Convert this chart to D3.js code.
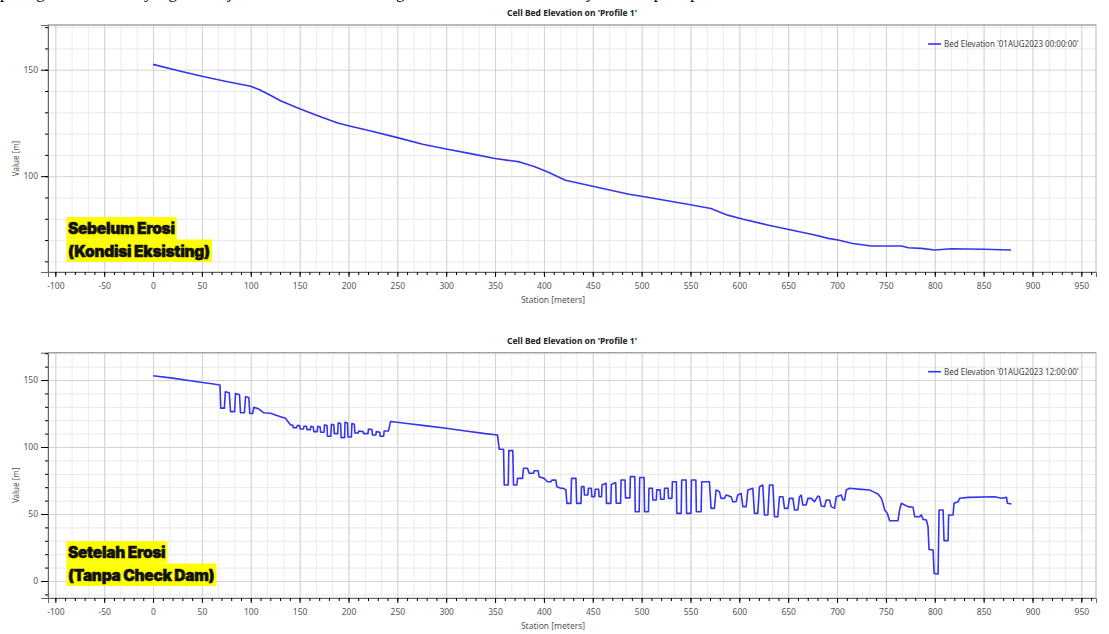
<!DOCTYPE html>
<html>
<head>
<meta charset="utf-8">
<script src="https://cdn.jsdelivr.net/npm/d3@7"></script>
<style>
  body { margin: 0; background: #fff; }
  svg { display: block; }
  text { font-family: "Noto Sans", "Open Sans", sans-serif; }
</style>
</head>
<body>
<script>
var width = 1109;
var height = 634;

// x ticks shared by both plots
var xTicks = [-100, -50, 0, 50, 100, 150, 200, 250, 300, 350, 400, 450, 500, 550, 600, 650, 700, 750, 800, 850, 900, 950];
var yTicksTop = [100, 150];
var yTicksBottom = [0, 50, 100, 150];

// before erosion (01AUG2023 00:00:00)
var stationsBefore = [0, 25, 50, 75, 100, 109, 120, 131, 150, 170, 189, 200, 225, 250, 276, 300, 325, 350, 375, 390, 404, 422, 450, 487, 503, 525, 547, 571, 588, 604, 630, 653, 675, 691, 701, 716, 735, 766, 773, 786, 800, 817, 850, 878];
var bedBefore = [152.5, 149.6, 146.9, 144.5, 142.2, 140.6, 138, 135.3, 131.7, 128.2, 125.0, 123.7, 121.0, 118.1, 115.0, 112.8, 110.6, 108.3, 106.7, 104.5, 102.0, 98.1, 95.3, 91.5, 90.3, 88.6, 86.8, 84.8, 81.7, 79.8, 77.0, 74.7, 72.6, 70.8, 70.0, 68.4, 67.2, 67.2, 66.4, 66.1, 65.3, 65.9, 65.7, 65.3];

// after erosion (01AUG2023 12:00:00), [station, elevation]
var bedAfter = [
  [0,153.2],[20,151.4],[40,149.3],[60,147.2],[68.5,146.3],
  [69.3,129],[73,129],[74,141.3],[78,140.5],[79.3,126.4],[83.5,126.4],[84.4,140],[88.5,139],[89.5,125.6],[93.5,125.6],
  [94.7,137.5],[98,137],[99,125],[102,125],[103,129.6],[108,128.5],[113,125.6],[120,125.2],[130.5,122.6],[135.7,121.4],
  [137.4,119.6],[140.8,116.4],
  [143,116.4],[143.5,114.5],[147,114.5],[147.5,116],[150,116],[150.5,113.5],[154,113.5],[154.5,115.5],[157,115.5],
  [157.5,113],[161,113],[161.5,115.5],[164,115],[164.5,111.5],[168,111.5],[168.5,115.5],[171,115],[171.5,111],[175,111],
  [175.5,116.5],[178,116],[178.5,108],[182,108],[182.5,117],[185,116.5],[185.5,110],[189,110],[189.5,118],[192,117.5],
  [192.5,107],[196,107],[196.5,118.5],[199,118],[199.5,107.5],[203,107.5],[203.5,117.5],[206,117],[206.5,110.5],[210,110.5],
  [210.5,112],[215,111.5],[215.5,110],[220,110],[220.5,113.5],[224,113],[224.5,109],[228,109],[228.5,111.5],[232,111],
  [232.5,108],[236,108],[236.5,112],[241,112],[243,119],
  [260,117.5],[280,115.8],[300,114],[320,112],[340,110],[352.5,109],
  [354.3,98.3],[358.7,98.3],[359.4,71.6],[363.5,71.6],[364.1,97.3],[368.2,97.3],[368.9,71.6],[372.3,71.6],[373,76.6],
  [378.1,76.6],[379.1,84.1],[383.2,84.1],[384.9,80.4],[389.3,80.4],[390,82.3],[394.1,82.3],[395.1,77.8],[400.2,76.6],
  [403.7,74.1],[407.1,74.1],[408.1,75.3],[412.2,75.3],[413.2,70.4],[417.3,69.2],[420,69.2],[422.5,67.9],
  [423.5,57.9],[427.6,57.9],[428.3,76.6],[432.8,76.6],[433.5,57.9],[437.9,57.9],[438.5,70.4],[441,70.4],[441.5,64.2],
  [445,64.2],[445.5,69.2],[448.5,69.2],[449,63],[452,63],[452.5,68.5],[456,68.5],[456.5,62.9],[459,62.9],[459.5,71.6],
  [463.6,72.9],[464,57.9],[468.5,57.9],[469,72],[473.5,73.5],[474,58],[478.5,58],[479,75.4],[483,75.4],[483.5,62],
  [488,62],[488.5,77.9],[493,77.9],[493.5,51.7],[497.5,51.7],[498,77.2],[502.5,77.2],[503,51.7],[507,51.7],[507.5,69.2],
  [511,69.2],[511.5,60.4],[515,60.4],[515.5,68],[519,68],[519.5,61],[523,61],[523.5,69.2],[527,69.2],[527.5,61.7],
  [531,61.7],[531.5,74.1],[535.6,74.1],[536,50.5],[540.5,50.5],[541,75.4],[545.5,75.4],[546,50.5],[550.5,50.5],
  [551,75.4],[555.5,75.4],[556,51.7],[560.9,51.7],
  [561.5,74.1],[569.4,74.1],[571.1,54.2],[574.5,54.2],[576.2,67.9],[579.6,66.7],[581.3,61.7],[584.7,61.7],[586.5,64.2],
  [591.6,62.9],[593.3,59.2],[596.7,59.2],[598.4,64.2],[601.8,65.4],[603.6,55.5],[607,55.5],[608.7,67.9],[613.8,69.2],
  [615.5,50.5],[618.9,50.5],[620.6,70.4],[624,71.6],[625.7,49.3],[629.2,49.3],[630.8,71.6],[634.3,71.6],[636,48],
  [639.4,48],[641.1,62.9],[644.6,62.9],[646.2,54.2],[649.7,54.2],[651.3,61.7],[654.8,61.7],[656.5,53],[659.9,53],
  [661.6,62.9],[663.3,64.2],[665,56.7],[668.4,56.7],[670.2,61.7],[673.6,61.7],[676.9,59.2],[680.4,63.4],[682,62.9],
  [683.8,56],[687.2,55.5],[688.9,60.4],[692.3,60.4],[694,55.5],[697.4,54.2],[699.2,62.9],[704.3,64.2],[706,60.4],
  [707.7,60.4],[709.4,67.9],[712.8,69.2],[724.8,68.4],[733.3,67.9],[736.8,66.7],[741.9,64.9],[745.3,61.7],[747,58],
  [748.7,53],[751.4,50.5],[753.8,45],[762.4,45],[764,53],[765.8,58],[769.2,56.7],[772.6,55.5],[777.8,55],[779.4,48],
  [784.5,48],[786.3,49.3],[788,46],[791.4,45.5],[793.1,40.5],[794.1,23.6],[798.3,23.1],[799.3,5.7],[803.4,5.2],
  [804.4,53],[808.5,53],[809.5,30.1],[813.6,30.1],[814.2,49.3],[818.7,49.3],[819.7,58],[823.9,59.2],[825.5,61.7],
  [834.1,62.4],[861.4,62.9],[868.2,61.7],[873.4,62.4],[874.4,58],[878.5,57.5]
];

var svg = d3.select('body').append('svg')
  .attr('width', width)
  .attr('height', height);

// bottom edge of the document text line that sits above the charts (cropped in the source)
svg.append('text')
  .attr('x', 0)
  .attr('y', -2)
  .style('font-family', '"Liberation Serif", serif')
  .style('font-size', '17px')
  .text('pada gambar berikut yang menunjukkan kondisi dasar sungai sebelum dan sesudah terjadi erosi pada profil tersebut');

var left = 48, right = 1096;

var xScale = d3.scaleLinear().domain([-107.5, 965]).range([left, right]);

var panels = [
  {
    top: 25, bottom: 272, yDomain: [55, 171], yTicks: yTicksTop,
    data: stationsBefore.map(function(s, i) { return [s, bedBefore[i]]; }),
    legend: "Bed Elevation '01AUG2023 00:00:00'",
    notes: ['Sebelum Erosi', '(Kondisi Eksisting)'],
    noteTop: 217
  },
  {
    top: 352.7, bottom: 598, yDomain: [-12.7, 170.4], yTicks: yTicksBottom,
    data: bedAfter,
    legend: "Bed Elevation '01AUG2023 12:00:00'",
    notes: ['Setelah Erosi', '(Tanpa Check Dam)'],
    noteTop: 541
  }
];

panels.forEach(function(p) {
  var yScale = d3.scaleLinear().domain(p.yDomain).range([p.bottom, p.top]);
  var h = p.bottom - p.top;
  var g = svg.append('g');

  // grid lines
  var yMinor = d3.range(Math.ceil(p.yDomain[0] / 10) * 10, p.yDomain[1], 10);
  var xMinor = d3.range(-100, 965, 50 / 3);

  g.append('g')
    .attr('transform', `translate(0, ${p.bottom})`)
    .call(d3.axisBottom(xScale).tickValues(xMinor).tickSize(-h).tickFormat(''))
    .call(function(a) {
      a.select('.domain').remove();
      a.selectAll('line').attr('stroke', '#ececec');
    });

  g.append('g')
    .attr('transform', `translate(${left}, 0)`)
    .call(d3.axisLeft(yScale).tickValues(yMinor).tickSize(-(right - left)).tickFormat(''))
    .call(function(a) {
      a.select('.domain').remove();
      a.selectAll('line').attr('stroke', function(d) { return d % 50 === 0 ? '#d4d4d4' : '#e8e8e8'; });
    });

  g.append('g')
    .attr('transform', `translate(0, ${p.bottom})`)
    .call(d3.axisBottom(xScale).tickValues(xTicks).tickSize(-h).tickFormat(''))
    .call(function(a) {
      a.select('.domain').remove();
      a.selectAll('line').attr('stroke', '#d2d2d2');
    });

  // frame
  g.append('rect')
    .attr('x', left)
    .attr('y', p.top)
    .attr('width', right - left)
    .attr('height', h)
    .attr('fill', 'none')
    .attr('stroke', '#b8b8b8');

  g.append('line')
    .attr('x1', left).attr('x2', right)
    .attr('y1', p.top).attr('y2', p.top)
    .attr('stroke', '#999');

  // axes
  var xAxis = g.append('g')
    .attr('transform', `translate(0, ${p.bottom})`)
    .call(d3.axisBottom(xScale).tickValues(xTicks).tickSize(5).tickPadding(6)
      .tickFormat(function(d) { return String(d); }));
  g.append('g')
    .attr('transform', `translate(0, ${p.bottom})`)
    .call(d3.axisBottom(xScale).tickValues(d3.range(-100, 961, 10)).tickSize(3).tickFormat(''))
    .call(function(a) { a.select('.domain').remove(); });

  var yAxis = g.append('g')
    .attr('transform', `translate(${left}, 0)`)
    .call(d3.axisLeft(yScale).tickValues(p.yTicks).tickSize(7).tickPadding(3));
  g.append('g')
    .attr('transform', `translate(${left}, 0)`)
    .call(d3.axisLeft(yScale).tickValues(yMinor).tickSize(3).tickFormat(''))
    .call(function(a) { a.select('.domain').remove(); });

  g.selectAll('.domain').attr('stroke', '#666');
  [xAxis, yAxis].forEach(function(a) {
    a.selectAll('text')
      .attr('fill', '#555')
      .style('font-size', '8.5px');
  });

  // line
  var line = d3.line()
    .x(function(d) { return xScale(d[0]); })
    .y(function(d) { return yScale(d[1]); });

  g.append('path')
    .datum(p.data)
    .attr('fill', 'none')
    .attr('stroke', '#3535ee')
    .attr('stroke-width', 1.6)
    .attr('stroke-linejoin', 'round')
    .attr('d', line);

  // title
  g.append('text')
    .attr('x', (left + right) / 2)
    .attr('y', p.top - 9)
    .attr('text-anchor', 'middle')
    .style('font-size', '8.5px')
    .style('font-weight', 'bold')
    .attr('fill', '#222')
    .text("Cell Bed Elevation on 'Profile 1'");

  // axis titles
  g.append('text')
    .attr('x', 553)
    .attr('y', p.bottom + 31)
    .attr('text-anchor', 'middle')
    .style('font-size', '8.5px')
    .attr('fill', '#555')
    .text('Station [meters]');

  g.append('text')
    .attr('transform', `translate(19, ${(p.top + p.bottom) / 2 + 10}) rotate(-90)`)
    .attr('text-anchor', 'middle')
    .style('font-size', '8px')
    .attr('fill', '#555')
    .text('Value [m]');

  // legend
  var lg = g.append('g').attr('transform', `translate(928, ${p.top + 19})`);
  lg.append('line')
    .attr('x1', 0).attr('x2', 13)
    .attr('stroke', '#3535ee')
    .attr('stroke-width', 1.6);
  lg.append('text')
    .attr('x', 16)
    .attr('y', 3)
    .style('font-size', '8px')
    .attr('fill', '#444')
    .text(p.legend);

  // highlighted note
  var ng = g.append('g');
  p.notes.forEach(function(t, i) {
    var row = ng.append('g');
    var txt = row.append('text')
      .attr('x', 68)
      .attr('y', p.noteTop + 17 + i * 22.5)
      .style('font-family', 'Inter, "Open Sans", sans-serif')
      .style('font-size', '15.5px')
      .style('font-weight', 900)
      .style('letter-spacing', '-0.3px')
      .attr('fill', '#111')
      .attr('stroke', '#111')
      .attr('stroke-width', 0.5)
      .text(t);
    var bb = txt.node().getBBox();
    row.insert('rect', 'text')
      .attr('x', 66.5)
      .attr('y', p.noteTop + i * 22.5)
      .attr('width', bb.x + bb.width + 2 - 66.5)
      .attr('height', 22.5)
      .attr('fill', '#ffff00');
  });
});
</script>
</body>
</html>
